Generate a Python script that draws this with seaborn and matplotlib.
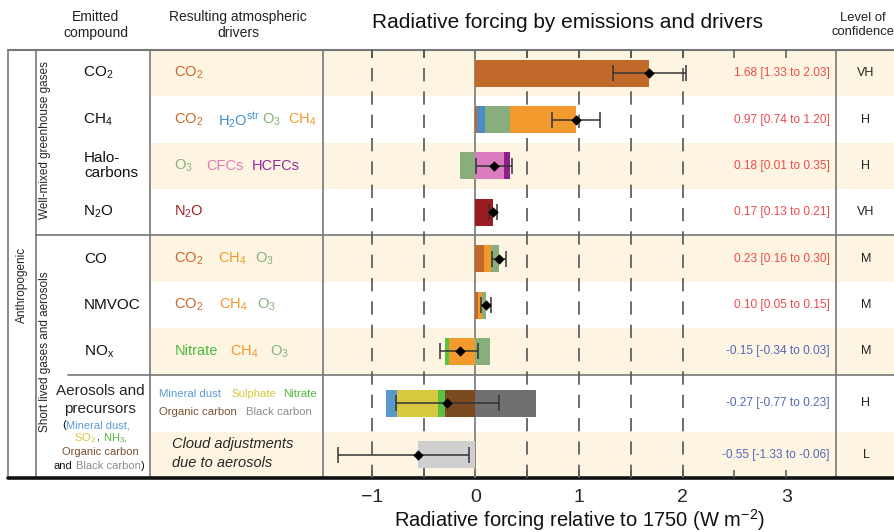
import numpy as np
import matplotlib
matplotlib.use("Agg")
import matplotlib.pyplot as plt
from matplotlib.patches import Rectangle
import seaborn as sns

# ---------------- data ----------------
rows = ["CO2", "CH4", "Halocarbons", "N2O", "CO", "NMVOC", "NOx", "Aerosols", "Cloud"]

# contributions of each resulting driver (W m-2), listed in stacking order
co2_parts = {"CO2": 1.68}
ch4_parts = {"CO2": 0.02, "H2Ostr": 0.07, "O3": 0.24, "CH4": 0.64}
halo_parts = {"O3": -0.15, "CFCs": 0.28, "HCFCs": 0.05}
n2o_parts = {"N2O": 0.17}
co_parts = {"CO2": 0.08, "CH4": 0.07, "O3": 0.08}
nmvoc_parts = {"CO2": 0.03, "CH4": 0.03, "O3": 0.04}
nox_parts = {"Nitrate": -0.04, "CH4": -0.25, "O3": 0.14}
aerosol_parts = {"Mineral dust": -0.10, "Sulphate": -0.40, "Nitrate": -0.07,
                 "Organic carbon": -0.29, "Black carbon": 0.59}
cloud_parts = {"Cloud": -0.55}
parts = [co2_parts, ch4_parts, halo_parts, n2o_parts, co_parts,
         nmvoc_parts, nox_parts, aerosol_parts, cloud_parts]

totals = [1.68, 0.97, 0.18, 0.17, 0.23, 0.10, -0.15, -0.27, -0.55]
lows = [1.33, 0.74, 0.01, 0.13, 0.16, 0.05, -0.34, -0.77, -1.33]
highs = [2.03, 1.20, 0.35, 0.21, 0.30, 0.15, 0.03, 0.23, -0.06]
confidence = ["VH", "H", "H", "VH", "M", "M", "M", "H", "L"]

xticks = [-1, 0, 1, 2, 3]
xtick_labels = ["\u22121", "0", "1", "2", "3"]

# ---------------- style ----------------
sns.set_theme(style="white")
plt.rcParams["font.family"] = ["Liberation Sans", "DejaVu Sans"]
plt.rcParams["mathtext.fontset"] = "custom"
plt.rcParams["mathtext.rm"] = "Liberation Sans"
plt.rcParams["mathtext.it"] = "Liberation Sans:italic"
plt.rcParams["mathtext.default"] = "regular"

bar_colors = {
    "CO2": "#C1692B", "H2Ostr": "#4A8CC8", "O3": "#87AE7B", "CH4": "#F29A2E",
    "CFCs": "#DB7BC0", "HCFCs": "#8B1F8B", "N2O": "#9B1C20",
    "Nitrate": "#5CC040", "Mineral dust": "#5A98CC", "Sulphate": "#D8C840",
    "Organic carbon": "#7B4A1E", "Black carbon": "#6F6F6F", "Cloud": "#CFCFCF",
}
txt = {
    "CO2": "#C8682A", "H2O": "#3A8FD0", "O3": "#86B07A", "CH4": "#F2982A",
    "CFCs": "#E07AB8", "HCFCs": "#8E2A9A", "N2O": "#A01E22", "Nitrate": "#4CBB3A",
    "dust": "#5B9BD5", "sulph": "#D4C83A", "oc": "#7A5230", "bc": "#8C8C8C",
}
shade = "#FDF5E2"
line_c = "#777777"

# ---------------- layout (figure pixels) ----------------
W, H = 895, 532
X_OUT, X_GRP, X_CMP, X_PLOT, X_CONF = 8, 36, 150, 323, 836
Y_TOP, Y_BOT = 50, 478
row_heights = [1] * 7 + [1.23, 1]
unit = (Y_BOT - Y_TOP) / sum(row_heights)
bounds = Y_TOP + unit * np.concatenate([[0], np.cumsum(row_heights)])
centers = (bounds[:-1] + bounds[1:]) / 2

fig = plt.figure(figsize=(W / 100, H / 100), dpi=100)
bg = fig.add_axes([0, 0, 1, 1])
bg.set_xlim(0, W)
bg.set_ylim(H, 0)
bg.axis("off")

# alternating row shading
for i in range(len(rows)):
    if i % 2 == 0:
        bg.add_patch(Rectangle((X_CMP, bounds[i]), W - X_CMP, bounds[i + 1] - bounds[i],
                               facecolor=shade, edgecolor="none", zorder=0))

# table frame
for x in [X_OUT, X_GRP, X_CMP, X_PLOT, X_CONF]:
    bg.plot([x, x], [Y_TOP, Y_BOT], color=line_c, lw=1.2, zorder=2)
bg.plot([X_OUT, W], [Y_TOP, Y_TOP], color=line_c, lw=1.5, zorder=2)
bg.plot([X_GRP, W], [bounds[4], bounds[4]], color=line_c, lw=1.2, zorder=2)
bg.plot([68, W], [bounds[7], bounds[7]], color=line_c, lw=1.2, zorder=2)
bg.plot([X_OUT, W], [Y_BOT, Y_BOT], color="#111111", lw=2.6, zorder=3)

# headers
hdr = dict(fontsize=10, color="#222222", ha="center", va="center", linespacing=1.15)
bg.text(96, 25, "Emitted\ncompound", **hdr)
bg.text(238, 25, "Resulting atmospheric\ndrivers", **hdr)
bg.text(863, 25, "Level of\nconfidence", fontsize=9.4, color="#222222",
        ha="center", va="center", linespacing=1.15)
bg.text(568, 23, "Radiative forcing by emissions and drivers", fontsize=15,
        color="#111111", ha="center", va="center")

# group labels
bg.text(22, 285, "Anthropogenic", rotation=90, fontsize=8.5, ha="center", va="center")
bg.text(45, 140, "Well-mixed greenhouse gases", rotation=90, fontsize=8.5,
        ha="center", va="center")
bg.text(45, 352, "Short lived gases and aerosols", rotation=90, fontsize=8.5,
        ha="center", va="center")

# emitted compound labels
cmp_kw = dict(fontsize=11, color="#111111", ha="left", va="center")
bg.text(83, centers[0], r"CO$_2$", **cmp_kw)
bg.text(83, centers[1], r"CH$_4$", **cmp_kw)
bg.text(84, centers[2], "Halo-\ncarbons", linespacing=1.1, **cmp_kw)
bg.text(83, centers[3], r"N$_2$O", **cmp_kw)
bg.text(84, centers[4], "CO", **cmp_kw)
bg.text(84, centers[5], "NMVOC", **cmp_kw)
bg.text(84, centers[6], r"NO$_x$", **cmp_kw)
bg.text(100, 391, "Aerosols and", fontsize=11, ha="center", va="center")
bg.text(100, 409, "precursors", fontsize=11, ha="center", va="center")
sm = dict(fontsize=8, va="center")
bg.text(66, 425, "(", color="#111111", ha="right", **sm)
bg.text(66, 425, "Mineral dust,", color=txt["dust"], ha="left", **sm)
bg.text(96, 438, r"SO$_2$", color=txt["sulph"], ha="right", **sm)
bg.text(96, 438, ",", color="#111111", ha="left", **sm)
bg.text(103, 438, r"NH$_3$,", color=txt["Nitrate"], ha="left", **sm)
bg.text(100, 452, "Organic carbon", color=txt["oc"], ha="center", **sm)
bg.text(54, 466, "and", color="#111111", ha="left", **sm)
bg.text(76, 466, "Black carbon", color=txt["bc"], ha="left", **sm)
bg.text(141, 466, ")", color="#111111", ha="left", **sm)

# resulting drivers
dk = dict(fontsize=10.5, va="center", ha="left")
bg.text(174, centers[0], r"CO$_2$", color=txt["CO2"], **dk)
bg.text(174, centers[1], r"CO$_2$", color=txt["CO2"], **dk)
bg.text(218, centers[1], r"H$_2$O$^{str}$", color=txt["H2O"], **dk)
bg.text(262, centers[1], r"O$_3$", color=txt["O3"], **dk)
bg.text(288, centers[1], r"CH$_4$", color=txt["CH4"], **dk)
bg.text(174, centers[2], r"O$_3$", color=txt["O3"], **dk)
bg.text(206, centers[2], "CFCs", color=txt["CFCs"], **dk)
bg.text(252, centers[2], "HCFCs", color=txt["HCFCs"], **dk)
bg.text(174, centers[3], r"N$_2$O", color=txt["N2O"], **dk)
for r, (xc, xm, xo) in zip([4, 5], [(174, 218, 255), (174, 219, 257)]):
    bg.text(xc, centers[r], r"CO$_2$", color=txt["CO2"], **dk)
    bg.text(xm, centers[r], r"CH$_4$", color=txt["CH4"], **dk)
    bg.text(xo, centers[r], r"O$_3$", color=txt["O3"], **dk)
bg.text(175, centers[6], "Nitrate", color=txt["Nitrate"], **dk)
bg.text(230, centers[6], r"CH$_4$", color=txt["CH4"], **dk)
bg.text(270, centers[6], r"O$_3$", color=txt["O3"], **dk)
ak = dict(fontsize=8.2, va="center", ha="left")
bg.text(159, 394, "Mineral dust", color=txt["dust"], **ak)
bg.text(231, 394, "Sulphate", color=txt["sulph"], **ak)
bg.text(283, 394, "Nitrate", color=txt["Nitrate"], **ak)
bg.text(159, 412, "Organic carbon", color=txt["oc"], **ak)
bg.text(246, 412, "Black carbon", color=txt["bc"], **ak)
bg.text(172, 444, "Cloud adjustments", fontsize=10.5, style="italic", va="center", ha="left")
bg.text(172, 463, "due to aerosols", fontsize=10.5, style="italic", va="center", ha="left")

# value labels and confidence
for i, (t, lo, hi, conf) in enumerate(zip(totals, lows, highs, confidence)):
    col = "#EE4B4B" if t > 0 else "#5566B8"
    bg.text(830, centers[i], f"{t:.2f} [{lo:.2f} to {hi:.2f}]", color=col,
            fontsize=8.6, ha="right", va="center")
    bg.text(866, centers[i], conf, fontsize=9, color="#222222", ha="center", va="center")

# ---------------- forcing panel ----------------
ax = fig.add_axes([X_PLOT / W, 1 - Y_BOT / H, (X_CONF - X_PLOT) / W, (Y_BOT - Y_TOP) / H])
ax.patch.set_alpha(0)
ax.set_xlim(-1.47, 3.48)
ax.set_ylim(Y_BOT, Y_TOP)
for s in ax.spines.values():
    s.set_visible(False)

for v in [-1, -0.5, 0.5, 1, 1.5, 2]:
    ax.axvline(v, color="#555555", lw=1.2, ls=(0, (8, 6)), zorder=1)
ax.axvline(0, color=line_c, lw=1.2, zorder=1)

bar_h = 27
for i, p in enumerate(parts):
    pos = 0.0
    for name, val in p.items():
        if val > 0:
            ax.barh(centers[i], val, left=pos, height=bar_h, color=bar_colors[name],
                    edgecolor="none", zorder=2)
            pos += val
    neg = 0.0
    for name, val in reversed(list(p.items())):
        if val < 0:
            ax.barh(centers[i], val, left=neg, height=bar_h, color=bar_colors[name],
                    edgecolor="none", zorder=2)
            neg += val

tot = np.array(totals)
ax.errorbar(tot, centers, xerr=[tot - np.array(lows), np.array(highs) - tot],
            fmt="none", ecolor="#333333", elinewidth=1.1, capsize=5.5, capthick=1.1,
            zorder=3)
sns.scatterplot(x=tot, y=centers, marker="D", color="black", s=24, ax=ax,
                zorder=4, edgecolor="black", legend=False)

ax.set_yticks([])
ax.set_xticks(xticks)
ax.set_xticklabels(xtick_labels)
ax.set_xticks(np.arange(-1, 3.01, 0.5), minor=True)
ax.tick_params(axis="x", which="both", direction="in", top=True, bottom=True,
               length=6, width=1.1, color="#555555", labelsize=14, pad=8)
ax.set_xlabel("Radiative forcing relative to 1750 (W m$^{-2}$)", fontsize=14.5,
              labelpad=1, color="#111111")
ax.set_ylabel("")

fig.savefig("out.png", dpi=100)
